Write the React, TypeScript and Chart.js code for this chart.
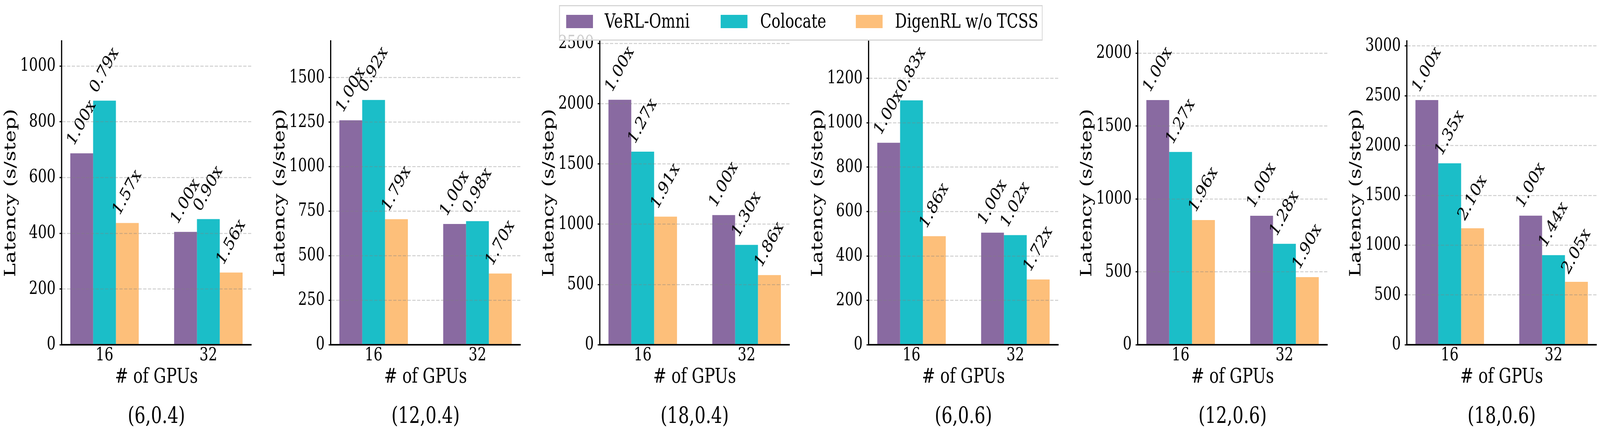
import React, { useEffect, useRef, useState } from 'react';
import { Chart, registerables } from 'chart.js';

Chart.register(...registerables);

// ---------------- data ----------------
const gpuCounts = ['16', '32'];
const gpuPositions = [0, 1];
const seriesNames = ['VeRL-Omni', 'Colocate', 'DigenRL w/o TCSS'];
const configTitles = ['(6,0.4)', '(12,0.4)', '(18,0.4)', '(6,0.6)', '(12,0.6)', '(18,0.6)'];

// latency (s/step) per config, [16 GPUs, 32 GPUs]
const verlOmniLatency = [[687, 405], [1260, 678], [2033, 1076], [910, 505], [1678, 885], [2457, 1296]];
const colocateLatency = [[876, 451], [1374, 694], [1602, 829], [1101, 494], [1322, 692], [1822, 900]];
const digenLatency = [[437, 259], [705, 400], [1063, 578], [489, 294], [855, 464], [1170, 632]];

// speedup labels printed above the bars
const verlOmniSpeedup = [['1.00x', '1.00x'], ['1.00x', '1.00x'], ['1.00x', '1.00x'], ['1.00x', '1.00x'], ['1.00x', '1.00x'], ['1.00x', '1.00x']];
const colocateSpeedup = [['0.79x', '0.90x'], ['0.92x', '0.98x'], ['1.27x', '1.30x'], ['0.83x', '1.02x'], ['1.27x', '1.28x'], ['1.35x', '1.44x']];
const digenSpeedup = [['1.57x', '1.56x'], ['1.79x', '1.70x'], ['1.91x', '1.86x'], ['1.86x', '1.72x'], ['1.96x', '1.90x'], ['2.10x', '2.05x']];

// y axis upper limits and tick values
const yMax = [1090, 1705, 2520, 1368, 2083, 3050];
const yTicks = [
  [0, 200, 400, 600, 800, 1000],
  [0, 250, 500, 750, 1000, 1250, 1500],
  [0, 500, 1000, 1500, 2000, 2500],
  [0, 200, 400, 600, 800, 1000, 1200],
  [0, 500, 1000, 1500, 2000],
  [0, 500, 1000, 1500, 2000, 2500, 3000],
];

// ---------------- style ----------------
const FONT = "'DejaVu Serif', serif";
const seriesColors = ['#896AA1', '#1BBEC8', '#FDBF7A'];
const PAGE_W = 5375;
const PAGE_H = 1118;
const AXIS_LEFT = 207;
const PLOT_W = 637;
const SUBPLOT_STEP = 903.8;
const CANVAS_W = 850;
const CANVAS_H = 1118;
const PLOT_TOP = 105;
const PLOT_BOTTOM = 882;
const TITLE_SIZE = 58;
const TITLE_PAD_BOTTOM = 16;
const TICK_SIZE = 47;
const AXIS_TITLE_SIZE = 53;
const LABEL_SIZE = 47;
const LABEL_ANGLE = 55;
const LABEL_GAP = 10;

function SubChart({ index, pixelRatio }: { index: number; pixelRatio: number }) {
  const ref = useRef<HTMLCanvasElement | null>(null);

  useEffect(() => {
    const canvas = ref.current;
    if (!canvas) return;
    const valueSets = [verlOmniLatency[index], colocateLatency[index], digenLatency[index]];
    const labelSets = [verlOmniSpeedup[index], colocateSpeedup[index], digenSpeedup[index]];
    const tickValues = yTicks[index];
    const titleBoxH = TITLE_SIZE * 1.2 + TITLE_PAD_BOTTOM;
    const xScaleH = CANVAS_H - PLOT_BOTTOM - titleBoxH;
    const xTitleCenter = 965;
    const xTitlePadBottom = PLOT_BOTTOM + xScaleH - xTitleCenter - (AXIS_TITLE_SIZE * 1.2) / 2;

    const labelPlugin = {
      id: 'speedupLabels',
      afterDraw(chart: any) {
        const ctx = chart.ctx as CanvasRenderingContext2D;
        const theta = (LABEL_ANGLE * Math.PI) / 180;
        ctx.save();
        ctx.font = `${LABEL_SIZE}px ${FONT}`;
        ctx.fillStyle = '#000';
        ctx.textAlign = 'left';
        ctx.textBaseline = 'alphabetic';
        chart.data.datasets.forEach((_ds: any, di: number) => {
          const meta = chart.getDatasetMeta(di);
          meta.data.forEach((el: any, i: number) => {
            const text = labelSets[di][i];
            const w = ctx.measureText(text).width;
            const H = 0.99 * LABEL_SIZE;
            const boxH = w * Math.sin(theta) + H * Math.cos(theta);
            const p = el.getProps(['x', 'y'], true);
            const cy = p.y - LABEL_GAP - boxH / 2;
            ctx.save();
            ctx.translate(p.x, cy);
            ctx.rotate(-theta);
            ctx.fillText(text, -w / 2, 0.265 * LABEL_SIZE);
            ctx.restore();
          });
        });
        ctx.restore();
      },
    };

    const chart = new Chart(canvas, {
      type: 'bar',
      data: {
        datasets: seriesNames.map((name, di) => ({
          label: name,
          data: gpuPositions.map((pos, i) => ({ x: pos, y: valueSets[di][i] })),
          backgroundColor: seriesColors[di],
          borderWidth: 0,
          categoryPercentage: 0.66,
          barPercentage: 1,
        })),
      } as any,
      options: {
        responsive: false,
        animation: false,
        devicePixelRatio: pixelRatio,
        layout: { padding: { top: PLOT_TOP, left: 0, right: CANVAS_W - AXIS_LEFT - PLOT_W, bottom: 0 } },
        plugins: {
          legend: { display: false },
          tooltip: { enabled: false },
          title: {
            display: true,
            position: 'bottom',
            fullSize: false,
            text: configTitles[index],
            color: '#000',
            font: { family: FONT, size: TITLE_SIZE, weight: 'normal' },
            padding: { top: 0, bottom: TITLE_PAD_BOTTOM },
          },
        },
        scales: {
          x: {
            type: 'linear',
            min: -0.413,
            max: 1.413,
            offset: false,
            afterBuildTicks: (s: any) => {
              s.ticks = gpuPositions.map((v) => ({ value: v }));
            },
            afterFit: (s: any) => {
              s.height = xScaleH;
            },
            ticks: {
              callback: (v: any) => {
                const k = gpuPositions.indexOf(Number(v));
                return k >= 0 ? gpuCounts[k] : '';
              },
              color: '#000',
              font: { family: FONT, size: TICK_SIZE },
              padding: 0,
              maxRotation: 0,
              autoSkip: false,
            },
            grid: { display: false, drawTicks: false, offset: false },
            border: { display: true, color: '#000', width: 4, z: 2 },
            title: {
              display: true,
              text: '# of GPUs',
              color: '#000',
              font: { family: FONT, size: AXIS_TITLE_SIZE },
              padding: { top: 0, bottom: xTitlePadBottom },
            },
          },
          y: {
            type: 'linear',
            min: 0,
            max: yMax[index],
            afterBuildTicks: (s: any) => {
              s.ticks = tickValues.map((v) => ({ value: v }));
            },
            afterFit: (s: any) => {
              s.width = AXIS_LEFT;
            },
            ticks: {
              callback: (v: any) => String(v),
              autoSkip: false,
              color: '#000',
              font: { family: FONT, size: TICK_SIZE },
              padding: 13,
            },
            grid: {
              z: 1,
              color: (c: any) => (c.tick && c.tick.value === 0 ? 'rgba(0,0,0,0)' : 'rgba(128,128,128,0.38)'),
              lineWidth: 2.5,
              drawTicks: true,
              tickLength: 7,
              tickWidth: 3,
              tickColor: '#000',
            },
            border: { display: true, color: '#000', width: 4, dash: [11, 5], z: 2 },
            title: {
              display: true,
              text: 'Latency (s/step)',
              color: '#000',
              font: { family: FONT, size: AXIS_TITLE_SIZE },
              padding: { top: 5, bottom: 0 },
            },
          },
        },
      } as any,
      plugins: [labelPlugin],
    });
    return () => {
      chart.destroy();
    };
  }, [index, pixelRatio]);

  return (
    <canvas
      ref={ref}
      width={CANVAS_W}
      height={CANVAS_H}
      style={{
        position: 'absolute',
        left: index * SUBPLOT_STEP,
        top: 0,
        width: CANVAS_W,
        height: CANVAS_H,
      }}
    />
  );
}

const legendPatchX = [20.5, 539.5, 993.5];
const legendTextX = [150.5, 672.5, 1125.5];

function Legend() {
  return (
    <div
      style={{
        position: 'absolute',
        left: 1878,
        top: 13,
        width: 1625,
        height: 91,
        boxSizing: 'border-box',
        border: '3.5px solid #d6d6d6',
        background: 'rgba(255,255,255,0.8)',
        zIndex: 5,
        fontFamily: FONT,
      }}
    >
      {seriesNames.map((name, i) => (
        <React.Fragment key={name}>
          <div
            style={{
              position: 'absolute',
              left: legendPatchX[i],
              top: 21.5,
              width: 90,
              height: 34,
              background: seriesColors[i],
            }}
          />
          <div
            style={{
              position: 'absolute',
              left: legendTextX[i],
              top: 9,
              fontSize: 50,
              lineHeight: '58.2px',
              whiteSpace: 'nowrap',
              color: '#000',
            }}
          >
            {name}
          </div>
        </React.Fragment>
      ))}
    </div>
  );
}

function computeScale() {
  const w = document.documentElement.clientWidth || window.innerWidth || PAGE_W;
  const h = document.documentElement.clientHeight || window.innerHeight || PAGE_H;
  return { sx: w / PAGE_W, sy: h / PAGE_H };
}

export default function App() {
  const [scale] = useState(computeScale);
  const dpr = window.devicePixelRatio || 1;
  const pixelRatio = Math.max(1, dpr * Math.max(scale.sx, scale.sy));

  useEffect(() => {
    document.body.style.margin = '0';
    document.body.style.overflow = 'hidden';
  }, []);

  return (
    <div
      style={{
        position: 'fixed',
        left: 0,
        top: 0,
        width: PAGE_W * scale.sx,
        height: PAGE_H * scale.sy,
        overflow: 'hidden',
        background: '#fff',
      }}
    >
      <div
        style={{
          position: 'absolute',
          left: 0,
          top: 0,
          width: PAGE_W,
          height: PAGE_H,
          transform: `scale(${scale.sx}, ${scale.sy})`,
          transformOrigin: '0 0',
          background: '#fff',
        }}
      >
        {configTitles.map((t, i) => (
          <SubChart key={t} index={i} pixelRatio={pixelRatio} />
        ))}
        <Legend />
      </div>
    </div>
  );
}
